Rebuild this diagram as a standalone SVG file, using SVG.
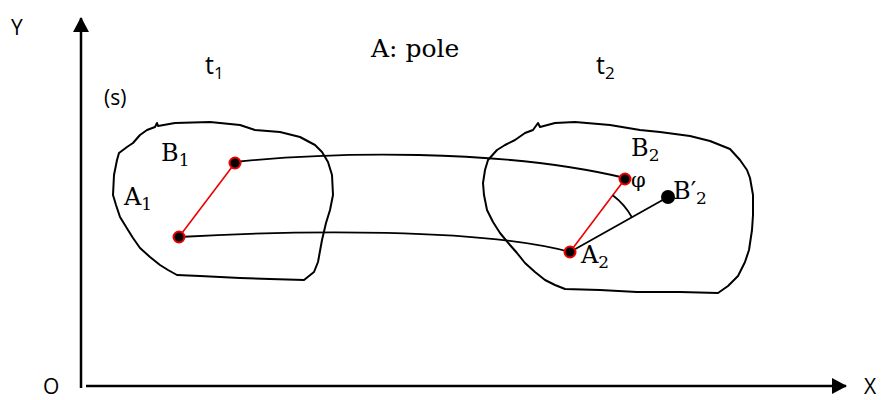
<svg xmlns="http://www.w3.org/2000/svg" width="884" height="400" viewBox="0 0 884 400">
<defs>
<style>
.blob{fill:none;stroke:#000;stroke-width:2;stroke-linejoin:round}
.conn{fill:none;stroke:#000;stroke-width:1.8}
.red{fill:none;stroke:#e00;stroke-width:1.6}
.pt{fill:#000;stroke:#e00;stroke-width:2}
.serif{font-family:"DejaVu Serif","Liberation Serif",serif;fill:#000}
.sans{font-family:"Open Sans","Liberation Sans",sans-serif;fill:#000}
.axis{stroke:#000;stroke-width:2.5;fill:none}
</style>
<marker id="arr" markerWidth="16" markerHeight="16" refX="14" refY="8" orient="auto" markerUnits="userSpaceOnUse">
<path d="M0,0 L15,8 L0,16 Z" fill="#000"/>
</marker>
</defs>
<rect width="884" height="400" fill="#fff"/>
<g id="axes">
<line class="axis" x1="81" y1="388" x2="81" y2="18" marker-end="url(#arr)"/>
<line class="axis" x1="86" y1="386" x2="846" y2="386" marker-end="url(#arr)"/>
<text class="sans" x="11" y="35" font-size="21">Y</text>
<text class="sans" x="43" y="394" font-size="21">O</text>
<text class="sans" x="864" y="394" font-size="21">X</text>
</g>
<g id="labels">
<text class="sans" x="104" y="105" font-size="21">(s)</text>
<text class="sans" x="205" y="74" font-size="25">t<tspan font-size="17" dy="5">1</tspan></text>
<text class="sans" x="596" y="74" font-size="25">t<tspan font-size="17" dy="5">2</tspan></text>
<text class="serif" x="371" y="57" font-size="25">A: pole</text>
</g>
<g id="body-t1">
<path class="blob" d="M157,123 L158,126 L175,123 L210,122 L240,125 L255,130 L280,132 L300,137 L315,145 L322,152 L328,162 L332,175 L333,195 L330,210 L326,223 L322,240 L318,262 L314,272 L304,280 L270,279 L240,278 L200,276 L177,275 L168,270 L160,265 L150,257 L140,248 L133,238 L128,230 L120,217 L116,205 L113,195 L114,175 L117,160 L119,153 L127,147 L133,143 L140,135 L147,130 L155,127 Z"/>
<text class="serif" x="161" y="161" font-size="24">B<tspan font-size="17" dy="5">1</tspan></text>
<text class="serif" x="124" y="205" font-size="24">A<tspan font-size="17" dy="5">1</tspan></text>
</g>
<g id="body-t2">
<path class="blob" d="M538,123 L540,127 L555,123 L575,122 L610,125 L640,130 L660,132 L690,136 L710,141 L730,149 L740,160 L747,170 L750,178 L753,195 L753,215 L752,230 L749,250 L745,262 L738,276 L728,286 L718,293 L680,292 L637,292 L600,290 L565,289 L555,285 L545,280 L535,272 L525,263 L517,253 L510,245 L500,233 L493,222 L487,210 L484,195 L483,183 L485,170 L488,160 L497,150 L505,145 L515,140 L525,133 L533,130 Z"/>
<text class="serif" x="631" y="156" font-size="24">B<tspan font-size="17" dy="5">2</tspan></text>
<text class="serif" x="581" y="263" font-size="24">A<tspan font-size="17" dy="5">2</tspan></text>
<text class="serif" x="673" y="199" font-size="24">B′<tspan font-size="17" dy="5">2</tspan></text>
<text class="serif" x="631" y="187" font-size="21">φ</text>
</g>
<g id="connectors">
<path class="conn" d="M235,162 C330,152 500,148 625,178"/>
<path class="conn" d="M179,237 C300,230 480,228 570,252"/>
<line class="red" x1="179" y1="237" x2="235" y2="163"/>
<line class="red" x1="570" y1="252" x2="625" y2="179"/>
<line class="conn" x1="570" y1="252" x2="668" y2="197"/>
<path class="conn" d="M612.7,195.3 A71,71 0 0 1 631.9,217.3"/>
</g>
<g id="points">
<circle class="pt" cx="235" cy="163" r="5.5"/>
<circle class="pt" cx="179" cy="237" r="5.5"/>
<circle class="pt" cx="625" cy="179" r="5.5"/>
<circle class="pt" cx="570" cy="252" r="5.5"/>
<circle cx="668" cy="197" r="7" fill="#000"/>
</g>
</svg>
